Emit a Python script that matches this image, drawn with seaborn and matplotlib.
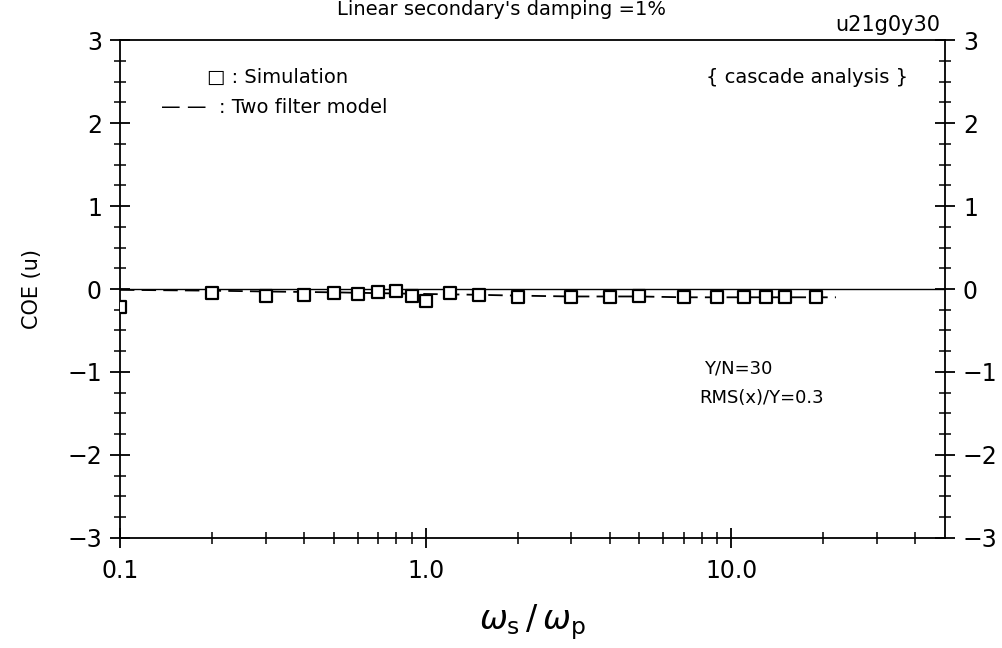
import numpy as np
import pandas as pd
import matplotlib
matplotlib.use("Agg")
import matplotlib.pyplot as plt
import seaborn as sns
from matplotlib.ticker import FixedLocator, MultipleLocator, FixedFormatter, NullFormatter

# ---- data ----
sim_x = [0.1, 0.2, 0.3, 0.4, 0.5, 0.6, 0.7, 0.8, 0.9, 1.0, 1.2, 1.5, 2.0, 3.0, 4.0, 5.0, 7.0, 9.0, 11.0, 13.0, 15.0, 19.0]
sim_y = [-0.22, -0.05, -0.09, -0.07, -0.05, -0.06, -0.04, -0.02, -0.08, -0.15, -0.05, -0.07, -0.10, -0.10, -0.10, -0.09, -0.10, -0.10, -0.10, -0.10, -0.10, -0.10]
model_x = [0.1, 0.2, 0.3, 0.5, 0.7, 1.0, 1.5, 2.0, 3.0, 5.0, 7.0, 10.0, 15.0, 22.0]
model_y = [-0.01, -0.02, -0.03, -0.04, -0.05, -0.06, -0.07, -0.08, -0.09, -0.09, -0.10, -0.10, -0.10, -0.10]
xtick_vals = [0.1, 1.0, 10.0]
xtick_labels = ["0.1", "1.0", "10.0"]
ytick_vals = [-3, -2, -1, 0, 1, 2, 3]
ytick_labels = ["\u22123", "\u22122", "\u22121", "0", "1", "2", "3"]

sim = pd.DataFrame({"x": sim_x, "y": sim_y})
model = pd.DataFrame({"x": model_x, "y": model_y})

sns.set_style("ticks")
plt.rcParams["font.family"] = ["DejaVu Sans"]
plt.rcParams["text.color"] = "black"
plt.rcParams["axes.labelcolor"] = "black"
plt.rcParams["xtick.color"] = "black"
plt.rcParams["ytick.color"] = "black"

fig = plt.figure(figsize=(10.03, 6.48), dpi=100)
ax = fig.add_axes([0.1196, 0.170, 0.8225, 0.768])

ax.axhline(0, color="black", lw=1.0, zorder=1)
sns.lineplot(data=model, x="x", y="y", ax=ax, color="black", lw=1.3,
             linestyle=(0, (8, 4)), zorder=2)
sns.scatterplot(data=sim, x="x", y="y", ax=ax, marker="s", s=80,
                facecolor="white", edgecolor="black", linewidth=1.6, zorder=3)

ax.set_xscale("log")
ax.set_xlim(0.1, 50)
ax.set_ylim(-3, 3)

ax.xaxis.set_major_locator(FixedLocator(xtick_vals))
ax.xaxis.set_major_formatter(FixedFormatter(xtick_labels))
minor_x = [m * d for d in (0.1, 1.0, 10.0) for m in range(2, 10) if m * d < 50]
ax.xaxis.set_minor_locator(FixedLocator(minor_x))
ax.xaxis.set_minor_formatter(NullFormatter())

ax.yaxis.set_major_locator(FixedLocator(ytick_vals))
ax.yaxis.set_major_formatter(FixedFormatter(ytick_labels))
ax.yaxis.set_minor_locator(MultipleLocator(0.25))

ax.tick_params(axis="both", which="major", direction="inout", length=14, width=1.3,
               labelsize=17, right=True, top=False, colors="black")
ax.tick_params(axis="both", which="minor", direction="inout", length=8, width=1.1,
               right=True, top=False, colors="black")
ax.tick_params(axis="y", labelright=True, pad=6)
ax.tick_params(axis="x", pad=8)

for s in ax.spines.values():
    s.set_visible(True)
    s.set_linewidth(1.3)
    s.set_color("black")

ax.set_xlabel(r"$\omega_{\rm s}\,/\,\omega_{\rm p}$", fontsize=24, labelpad=14, color="black")
ax.set_ylabel("COE (u)", fontsize=15, labelpad=18, color="black")

# annotations
ax.text(0.105, 0.925, "\u25a1 : Simulation", transform=ax.transAxes, fontsize=14, va="center")
ax.text(0.05, 0.865, "\u2014 \u2014  : Two filter model", transform=ax.transAxes, fontsize=14, va="center")
ax.text(0.955, 0.925, "{ cascade analysis }", transform=ax.transAxes, fontsize=14,
        va="center", ha="right")
ax.text(0.708, 0.341, "Y/N=30", transform=ax.transAxes, fontsize=13, va="center")
ax.text(0.702, 0.281, "RMS(x)/Y=0.3", transform=ax.transAxes, fontsize=13, va="center")

fig.text(0.937, 0.962, "u21g0y30", fontsize=15, ha="right", va="center")
fig.text(0.50, 0.986, "Linear secondary's damping =1%", fontsize=14, ha="center", va="center")

fig.savefig("out.png", dpi=100)
